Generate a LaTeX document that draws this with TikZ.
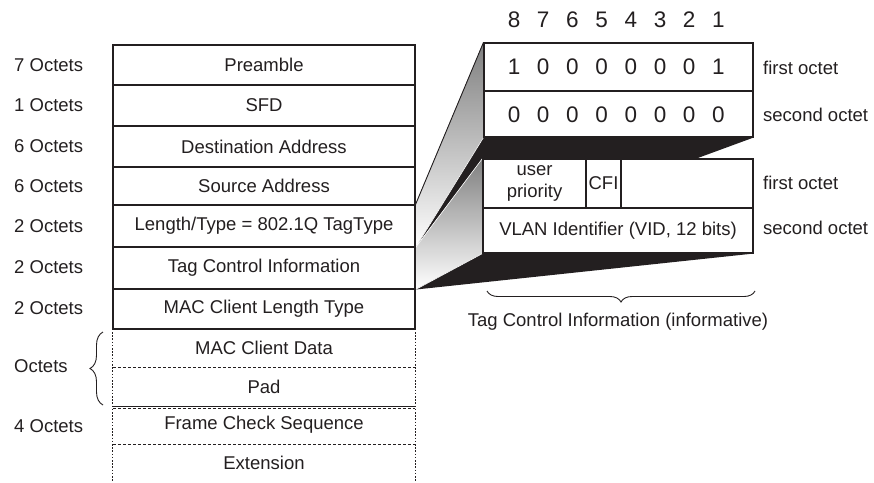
\documentclass[tikz,border=0pt]{standalone}
\usepackage{fontspec}
\setmainfont{Liberation Sans}
\usetikzlibrary{decorations.pathreplacing,calc}
\definecolor{ink}{RGB}{35,31,32}
\definecolor{shade}{RGB}{155,155,157}
\begin{document}
\begin{tikzpicture}[x=1pt,y=-1pt,
  every node/.style={font=\fontsize{18.5}{22}\selectfont, text=ink, inner sep=0pt},
  field/.style={draw=ink, line width=1.1pt, fill=white, minimum width=302pt, minimum height=#1},
  openfield/.style={minimum width=302pt, minimum height=#1},
  cell/.style={draw=ink, line width=1.1pt, fill=white},
  bit/.style={font=\fontsize{22.5}{26}\selectfont},
  side/.style={anchor=west},
  dotline/.style={draw=ink, line width=1pt, dash pattern=on 1.6pt off 1.6pt},
  dashline/.style={draw=ink, line width=1pt, dash pattern=on 3pt off 2pt},
  rule/.style={draw=ink, line width=1.1pt},
  bracket/.style={draw=ink, line width=0.9pt, decorate, decoration={brace, amplitude=#1}},
  seam/.style={draw=white, line width=0.6pt}
]
\useasboundingbox (0,0) rectangle (874,482);

% ---------- frame fields ----------
\node[field=40pt] (r1) at (264,65)    {Preamble};
\node[field=41pt] (r2) at (264,105.5) {SFD};
\node[field=41pt] (r3) at (264,146.5) {Destination Address};
\node[field=38pt] (r4) at (264,186)   {Source Address};
\node[field=42pt] (r5) at (264,226)   {Length/Type = 802.1Q TagType};
\node[field=42pt] (r6) at (264,268)   {Tag Control Information};
\node[field=40pt] (r7) at (264,309)   {MAC Client Length Type};

\node[openfield=38pt] (d1) at (264,348)   {MAC Client Data};
\node[openfield=39pt] (d2) at (264,386.5) {Pad};
\node[openfield=38pt] (d3) at (264,425)   {Frame Check Sequence};
\node[openfield=38pt] (d4) at (264,463)   {Extension};

\draw[dotline] (d1.north west) -- (d4.south west);
\draw[dotline] (d1.north east) -- (d4.south east);
\draw[dashline] (d1.south west) -- (d1.south east);
\draw[rule] (d2.south west) -- (d2.south east);
\draw[dashline] ($(d3.north west)+(0,2.5)$) -- ($(d3.north east)+(0,2.5)$);
\draw[dashline] (d3.south west) -- (d3.south east);

% ---------- octet counts ----------
\node[side] (o1) at (14,65)  {7 Octets};
\node[side] (o2) at (14,105.5) {1 Octets};
\node[side] (o3) at (14,146.5) {6 Octets};
\node[side] (o4) at (14,186) {6 Octets};
\node[side] (o5) at (14,226) {2 Octets};
\node[side] (o6) at (14,267) {2 Octets};
\node[side] (o7) at (14,308) {2 Octets};
\node[side] (o8) at (14,366) {Octets};
\node[side] (o9) at (14,426) {4 Octets};

\coordinate (lb1) at (103,405);
\coordinate (lb2) at (103,332);
\draw[bracket=13pt] (lb1) -- (lb2);

% ---------- expanded tag boxes ----------
\node[cell, minimum width=269pt, minimum height=48pt] (bitA) at (618.5,67)  {};
\node[cell, minimum width=269pt, minimum height=46pt] (bitB) at (618.5,114) {};
\node[cell, minimum width=270pt, minimum height=49pt] (tciA) at (618,183.5) {};
\node[cell, minimum width=270pt, minimum height=45pt] (tciB) at (618,230.5)
  {VLAN Identifier (VID, 12 bits)};
\node[cell, minimum width=103pt, minimum height=49pt, align=center] (prio) at (534.5,183.5)
  {user\\priority};
\node[cell, minimum width=35pt, minimum height=49pt] (cfi) at (603.5,183.5) {CFI};

% ---------- projection from the frame to the tag boxes ----------
\coordinate (back) at ($(tciA.north west)!0.79!(tciA.north east)$);
\fill[shade] (r5.north east) -- (bitA.north west) -- (bitB.south west) -- (r5.south east) -- cycle;
\fill[ink] (r5.south east) -- (bitB.south west) -- (bitB.south east) -- (back) -- (tciA.north west) -- cycle;
\fill[shade] (r5.south east) -- (tciA.north west) -- (tciB.south west) -- (r6.south east) -- cycle;
\fill[ink] (r6.south east) -- (tciB.south west) -- (tciB.south east) -- cycle;
\draw[rule, line width=0.9pt] (r5.north east) -- (bitA.north west);
\draw[seam] (r5.south east) -- (bitB.south west);
\draw[seam] (r5.south east) -- (tciA.north west);
\draw[seam] (r6.south east) -- (tciB.south west);

% redraw box outlines over the projection
\draw[rule] (bitA.north west) rectangle (bitB.south east);
\draw[rule] (bitA.south west) -- (bitA.south east);
\draw[rule] (tciA.north west) rectangle (tciB.south east);
\draw[rule] (r5.north east) -- (r6.south east);

% ---------- bit numbering and values ----------
\foreach \n [count=\k from 0] in {8,7,6,5,4,3,2,1} {
  \node[bit] (h\n) at (514+29.2*\k,20) {\n};
}
\foreach \v [count=\k from 0] in {1,0,0,0,0,0,0,1} {
  \node[bit] (p\k) at (514+29.2*\k,67) {\v};
}
\foreach \v [count=\k from 0] in {0,0,0,0,0,0,0,0} {
  \node[bit] (q\k) at (514+29.2*\k,115) {\v};
}

\node[side] (l1) at (763,68)  {first octet};
\node[side] (l2) at (763,115) {second octet};
\node[side] (l3) at (763,183) {first octet};
\node[side] (l4) at (763,228) {second octet};

% ---------- caption brace ----------
\coordinate (bb1) at (487,291);
\coordinate (bb2) at (755,291);
\draw[bracket=11pt, decoration={mirror}] (bb1) -- (bb2);
\node (cap) at (618,322) {Tag Control Information (informative)};
\end{tikzpicture}
\end{document}
